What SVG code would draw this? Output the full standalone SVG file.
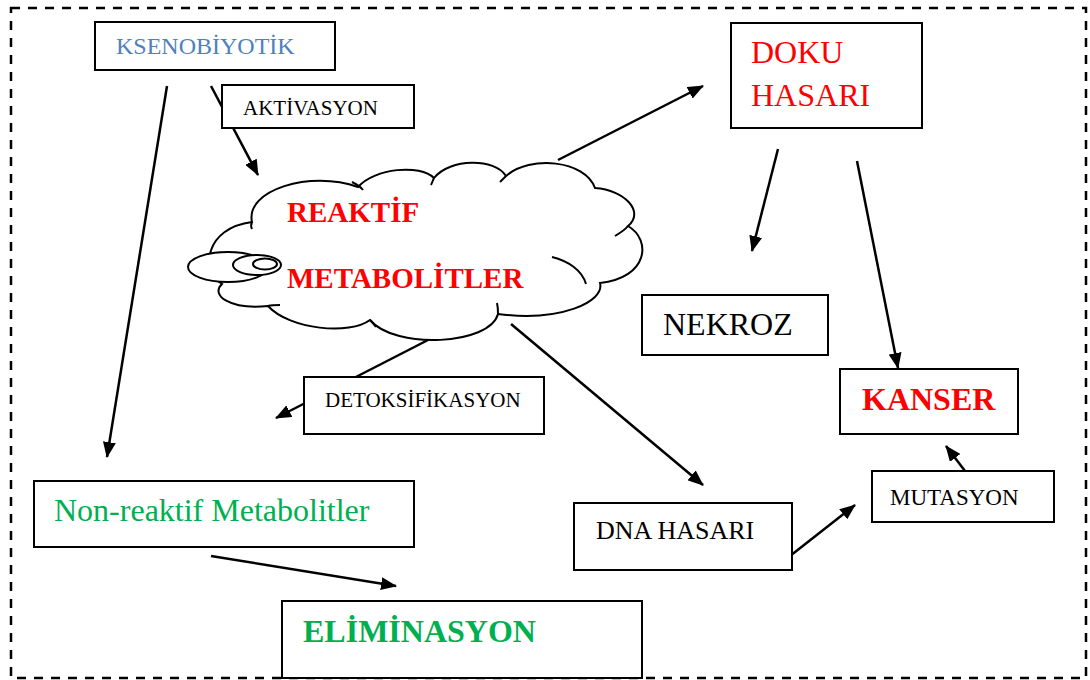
<svg xmlns="http://www.w3.org/2000/svg" width="1090" height="680" viewBox="0 0 1090 680">
<style>
.box{fill:#fff;stroke:#000;stroke-width:2}
.t{font-family:"Liberation Serif","Times New Roman",serif}
.b{font-weight:bold}
.red{fill:#ff0000}
.grn{fill:#00b050}
.blu{fill:#4f81bd}
.blk{fill:#000}
.ln{stroke:#000;stroke-width:2.5;fill:none}
.arr{stroke:#000;stroke-width:2.5;fill:none;marker-end:url(#ah)}
.cl{fill:#fff;stroke:#000;stroke-width:2}
.tl{fill:none;stroke:#000;stroke-width:2}
</style>
<defs>
<marker id="ah" markerWidth="16" markerHeight="13" refX="15" refY="6.5" orient="auto" markerUnits="userSpaceOnUse">
<path d="M0,0 L16,6.5 L0,13 z" fill="#000"/>
</marker>
</defs>
<rect x="11" y="8" width="1075" height="670" fill="none" stroke="#000" stroke-width="2.5" stroke-dasharray="9 8"/>
<g id="connectors">
<line class="arr" x1="211" y1="86" x2="258" y2="175"/>
<line class="arr" x1="167" y1="86" x2="107" y2="457"/>
<line class="arr" x1="558" y1="160" x2="703" y2="86"/>
<line class="arr" x1="778" y1="149" x2="752" y2="251"/>
<line class="arr" x1="857" y1="161" x2="898" y2="368"/>
<line class="arr" x1="428" y1="340" x2="276" y2="418"/>
<line class="arr" x1="511" y1="324" x2="703" y2="485"/>
<line class="arr" x1="790" y1="556" x2="855" y2="505"/>
<line class="arr" x1="965" y1="471" x2="946" y2="446"/>
<line class="arr" x1="211" y1="556" x2="396" y2="586"/>
</g>
<g id="ksenobiyotik">
<rect class="box" x="95" y="22" width="240" height="48"/>
<text class="t blu" x="116" y="54" font-size="24">KSENOBİYOTİK</text>
</g>
<g id="aktivasyon">
<rect class="box" x="222" y="85" width="192" height="43"/>
<text class="t blk" x="243" y="115" font-size="21">AKTİVASYON</text>
</g>
<g id="reaktif-metabolitler">
<path class="cl" d="M222,284 C200,270 205,228 252,222 C245,190 310,170 358,187 C375,168 420,164 434,178 C450,158 495,158 506,176 C530,155 585,160 595,188 C625,190 645,212 628,226 C652,240 648,278 600,283 C605,302 560,322 498,314 C490,345 395,350 370,320 C350,335 290,330 268,306 C230,310 210,295 222,284 Z"/>
<path class="tl" d="M252,222 C251,224 251,227 252,229"/>
<path class="tl" d="M352,182 C356,184 360,186 363,190"/>
<path class="tl" d="M434,178 C433,180 432,183 431,185"/>
<path class="tl" d="M506,176 C504,178 502,180 500,182"/>
<path class="tl" d="M628,226 C625,230 620,233 615,236"/>
<path class="tl" d="M552,257 C568,261 582,270 586,284"/>
<path class="tl" d="M498,314 C498,311 498,307 497,303"/>
<path class="tl" d="M370,320 C372,322 374,324 376,327"/>
<path class="tl" d="M268,306 C272,305 276,305 280,305"/>
<ellipse class="cl" cx="228" cy="267" rx="40" ry="15"/>
<ellipse class="cl" cx="257" cy="265" rx="24" ry="10"/>
<ellipse class="cl" cx="265" cy="264" rx="12" ry="5.5"/>
<text class="t b red" x="287" y="222" font-size="29">REAKTİF</text>
<text class="t b red" x="287" y="288" font-size="29">METABOLİTLER</text>
</g>
<g id="doku-hasari">
<rect class="box" x="731" y="23" width="191" height="105"/>
<text class="t red" x="751" y="63" font-size="32">DOKU</text>
<text class="t red" x="751" y="106" font-size="32">HASARI</text>
</g>
<g id="nekroz">
<rect class="box" x="642" y="295" width="186" height="60"/>
<text class="t blk" x="663" y="335" font-size="32">NEKROZ</text>
</g>
<g id="kanser">
<rect class="box" x="840" y="369" width="178" height="65"/>
<text class="t b red" x="862" y="410" font-size="32">KANSER</text>
</g>
<g id="mutasyon">
<rect class="box" x="872" y="471" width="182" height="51"/>
<text class="t blk" x="890" y="505" font-size="23">MUTASYON</text>
</g>
<g id="dna-hasari">
<rect class="box" x="574" y="503" width="218" height="67"/>
<text class="t blk" x="596" y="539" font-size="26">DNA HASARI</text>
</g>
<g id="detoksifikasyon">
<rect class="box" x="304" y="377" width="240" height="57"/>
<text class="t blk" x="325" y="407" font-size="21">DETOKSİFİKASYON</text>
</g>
<g id="non-reaktif-metabolitler">
<rect class="box" x="34" y="481" width="380" height="66"/>
<text class="t grn" x="54" y="521" font-size="32">Non-reaktif Metabolitler</text>
</g>
<g id="eliminasyon">
<rect class="box" x="282" y="601" width="360" height="77"/>
<text class="t b grn" x="303" y="642" font-size="32">ELİMİNASYON</text>
</g>
</svg>
